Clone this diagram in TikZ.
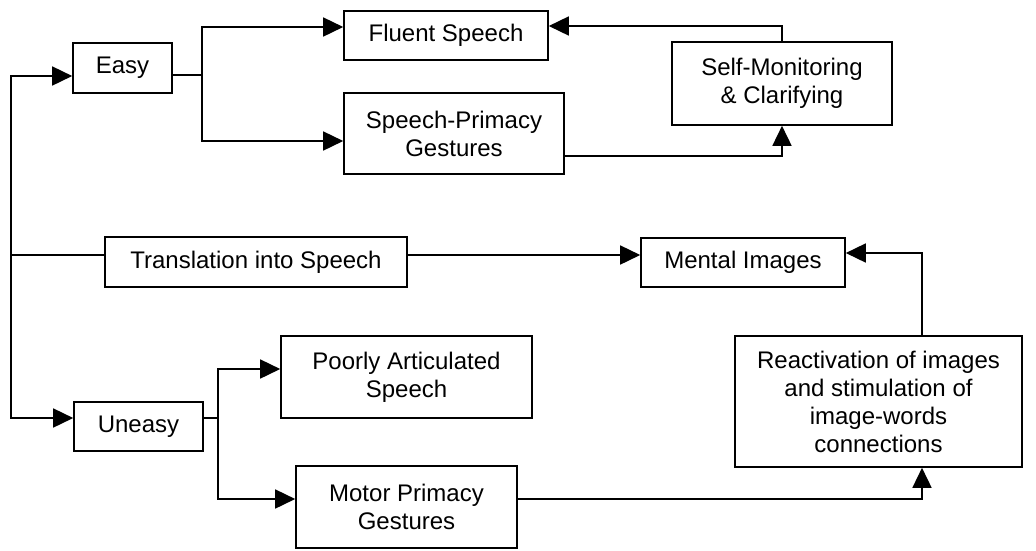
\documentclass[tikz,border=0pt]{standalone}
\usepackage{fontspec}
\setmainfont{Liberation Sans}
\usetikzlibrary{arrows.meta}
\begin{document}
\begin{tikzpicture}[x=1pt,y=-1pt,
  box/.style={draw,line width=1.6pt,rectangle,inner sep=0pt,align=center,
    font=\fontsize{24}{28}\selectfont},
  link/.style={line width=1.6pt},
  arr/.style={link,-{Triangle[length=20pt,width=19pt]}}]
\useasboundingbox (0,0) rectangle (1036,550);
% boxes
\node[box,minimum width=99pt,minimum height=50pt]  (easy)   at (122.5,68)  {Easy};
\node[box,minimum width=204pt,minimum height=49pt] (fluent) at (446,35.5)  {Fluent Speech};
\node[box,minimum width=220pt,minimum height=81pt] (sp)     at (454,133.5) {Speech-Primacy\\Gestures};
\node[box,minimum width=220pt,minimum height=83pt] (sm)     at (782,83.5)  {Self-Monitoring\\\& Clarifying};
\node[box,minimum width=302pt,minimum height=50pt] (trans)  at (256,262)   {Translation into Speech};
\node[box,minimum width=204pt,minimum height=49pt] (mental) at (743,262.5) {Mental Images};
\node[box,minimum width=287pt,minimum height=131pt] (react) at (878.5,401.5)
  {Reactivation of images\\and stimulation of\\image-words\\connections};
\node[box,minimum width=129pt,minimum height=49pt] (uneasy) at (138.5,426.5) {Uneasy};
\node[box,minimum width=251pt,minimum height=82pt] (poorly) at (406.5,377) {Poorly Articulated\\Speech};
\node[box,minimum width=221pt,minimum height=82pt] (motor)  at (406.5,507) {Motor Primacy\\Gestures};
% junction points and levels
\coordinate (spine) at (11,255);
\coordinate (ltop) at (0,76);
\coordinate (lbot) at (0,418);
\coordinate (ej) at (202,75);
\coordinate (uj) at (218,418);
\coordinate (yfl) at (0,27);
\coordinate (ysp) at (0,141);
\coordinate (ysmf) at (0,26);
\coordinate (yspo) at (0,156);
\coordinate (ymi) at (0,253);
\coordinate (ypo) at (0,369);
\coordinate (ymo) at (0,499);
\coordinate (rx) at (922,0);
% left spine
\draw[arr] (spine) |- (easy.west |- ltop);
\draw[arr] (spine) |- (uneasy.west |- lbot);
\draw[link] (spine) -- (trans.west |- spine);
% easy branch
\draw[link] (easy.east |- ej) -- (ej);
\draw[arr] (ej) |- (fluent.west |- yfl);
\draw[arr] (ej) |- (sp.west |- ysp);
\draw[arr] (sm.north) |- (fluent.east |- ysmf);
\draw[arr] (sp.east |- yspo) -| (sm.south);
% middle
\draw[arr] (trans.east |- spine) -- (mental.west |- spine);
\draw[arr] (react.north -| rx) |- (mental.east |- ymi);
% uneasy branch
\draw[link] (uneasy.east |- uj) -- (uj);
\draw[arr] (uj) |- (poorly.west |- ypo);
\draw[arr] (uj) |- (motor.west |- ymo);
\draw[arr] (motor.east |- ymo) -| (react.south -| rx);
\end{tikzpicture}
\end{document}
